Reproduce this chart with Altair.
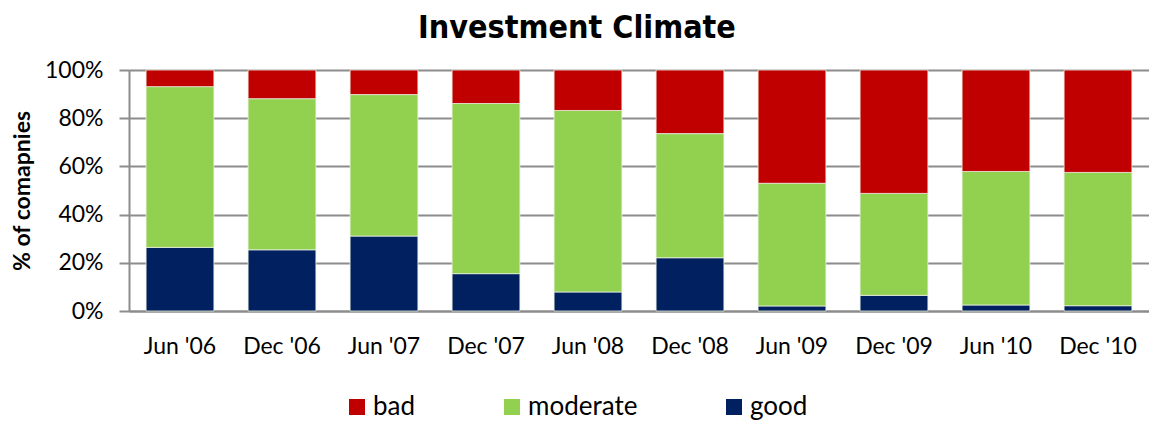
import altair as alt
import pandas as pd

periods = ["Jun '06", "Dec '06", "Jun '07", "Dec '07", "Jun '08",
           "Dec '08", "Jun '09", "Dec '09", "Jun '10", "Dec '10"]
good = [26.4, 25.4, 31.1, 15.5, 7.9, 22.1, 2.1, 6.5, 2.5, 2.2]
moderate = [66.7, 62.7, 58.7, 70.6, 75.3, 51.5, 50.9, 42.3, 55.4, 55.3]
bad = [6.9, 11.9, 10.2, 13.9, 16.8, 26.4, 47.0, 51.2, 42.1, 42.5]

categories = ["bad", "moderate", "good"]
colors = ["#C00000", "#92D050", "#002060"]
stack_order = {"good": 0, "moderate": 1, "bad": 2}

rows = []
for i, p in enumerate(periods):
    for name, vals in (("good", good), ("moderate", moderate), ("bad", bad)):
        rows.append({"period": p, "climate": name, "share": vals[i] / 100.0,
                     "ord": stack_order[name]})
df = pd.DataFrame(rows)

FONT = "Lato"

chart = alt.Chart(df).mark_bar(stroke="#e8f0e0", strokeWidth=0.8).encode(
    x=alt.X("period:N", sort=periods, title=None,
            scale=alt.Scale(paddingInner=0.335, paddingOuter=0.1675),
            axis=alt.Axis(labelAngle=0, labelFontSize=23, labelFont=FONT,
                          labelColor="#000000", labelPadding=24, ticks=False,
                          domainColor="#8c8c8c", domainWidth=2, grid=False)),
    y=alt.Y("share:Q", stack="zero", title="% of comapnies",
            scale=alt.Scale(domain=[0, 1], nice=False),
            axis=alt.Axis(format=".0%", values=[0, 0.2, 0.4, 0.6, 0.8, 1.0],
                          labelFontSize=23, labelFont=FONT, labelColor="#000000",
                          labelPadding=16, tickSize=10, tickColor="#8c8c8c",
                          tickWidth=2, domainColor="#8c8c8c", domainWidth=2,
                          gridColor="#8c8c8c", gridWidth=2,
                          titleFont=FONT, titleFontSize=23, titleFontWeight="bold",
                          titleColor="#000000", titlePadding=10)),
    color=alt.Color("climate:N", scale=alt.Scale(domain=categories, range=colors),
                    legend=alt.Legend(title=None, orient="none", direction="horizontal",
                                      legendX=215, legendY=324, symbolType="square",
                                      symbolSize=256, symbolStrokeWidth=0,
                                      labelFontSize=26, labelFont=FONT,
                                      labelColor="#000000", columnPadding=83,
                                      labelOffset=3)),
    order=alt.Order("ord:Q", sort="ascending"),
).properties(
    width=1020, height=241,
    title=alt.TitleParams("Investment Climate", font="DejaVu Sans Condensed",
                          fontSize=32, fontWeight="bold", color="#000000",
                          anchor="middle", dx=-62, offset=14),
    autosize=alt.AutoSizeParams(type="none"),
    padding={"left": 129, "top": 70, "right": 0, "bottom": 110},
).configure_view(stroke=None)

chart.save("out.html", embed_options={"renderer": "svg", "actions": False})
